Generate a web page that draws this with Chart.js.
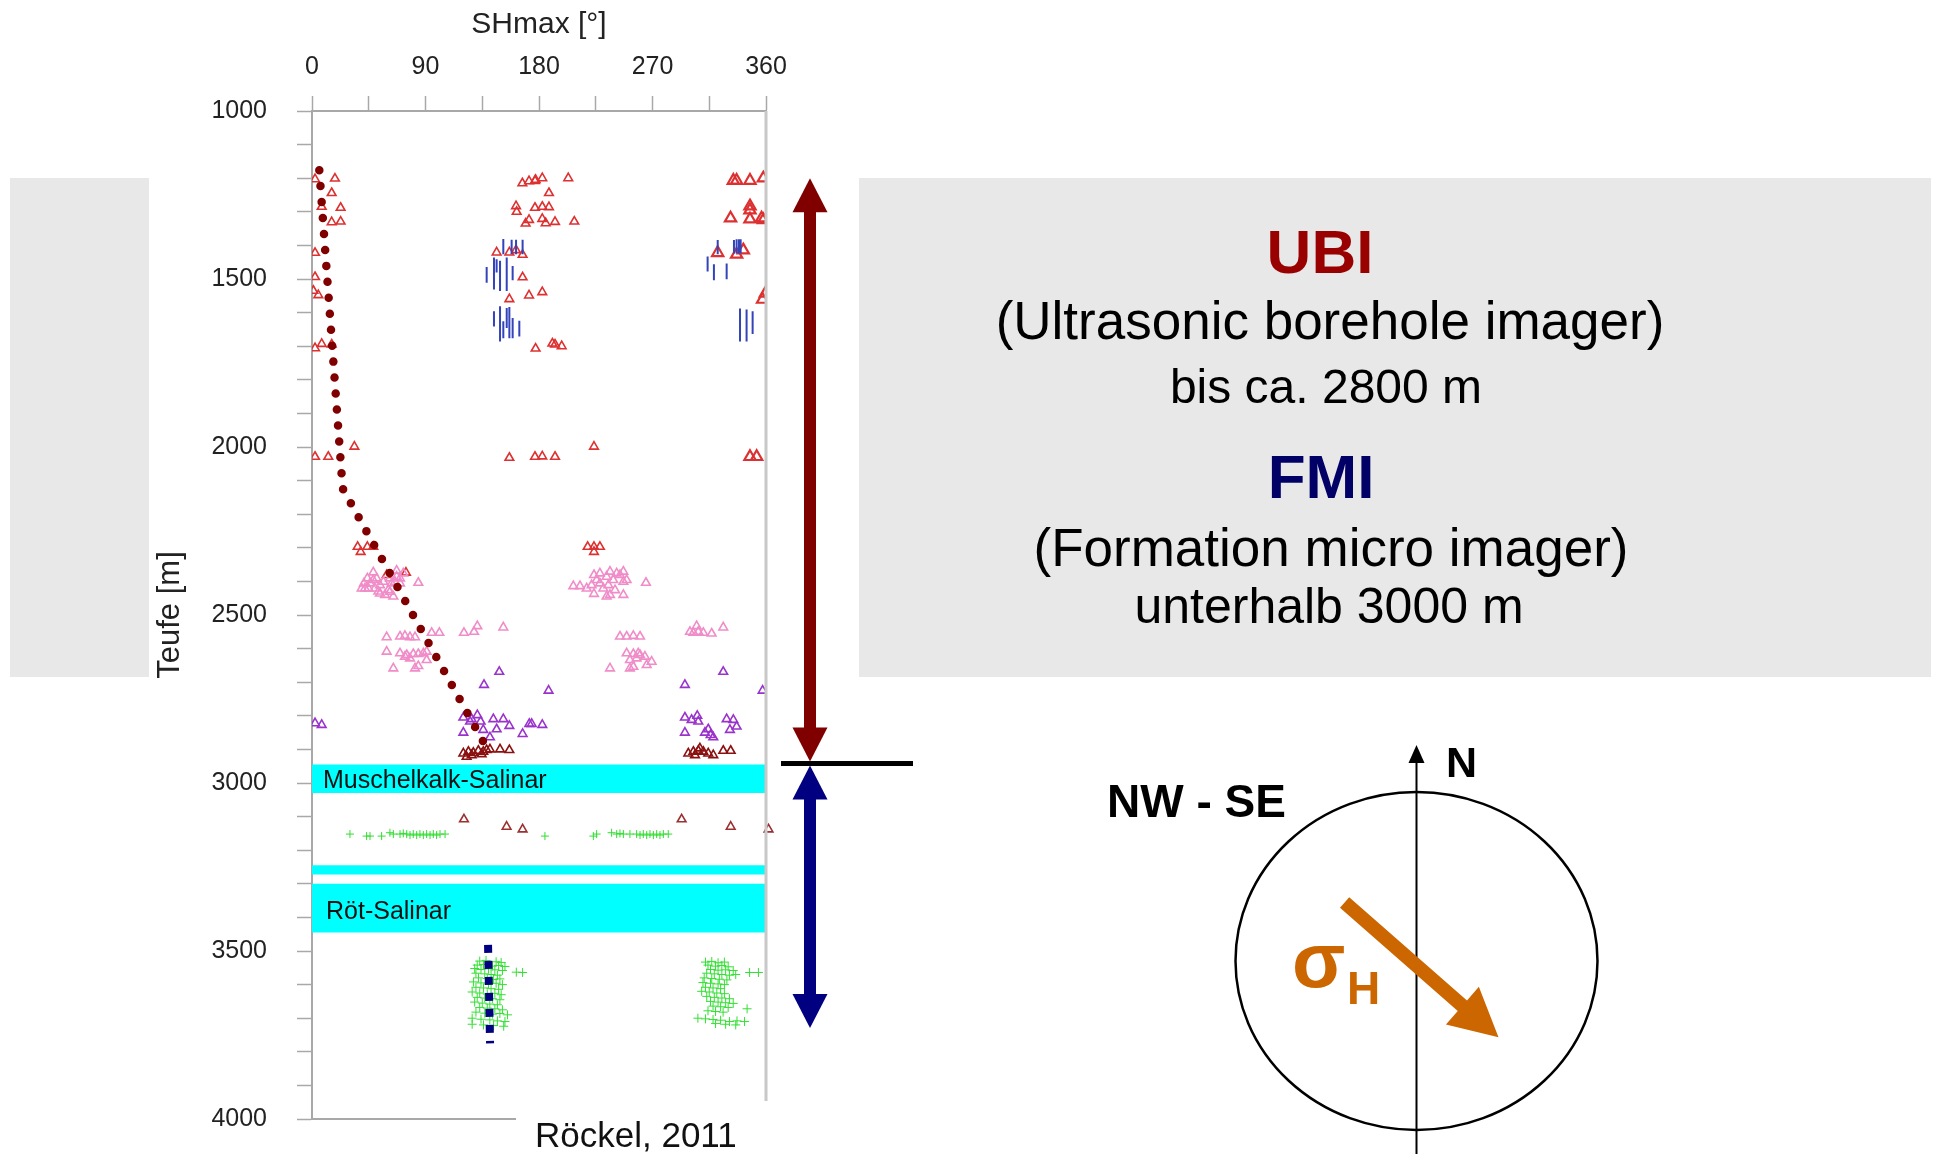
<!DOCTYPE html>
<html><head><meta charset="utf-8">
<script src="https://cdn.jsdelivr.net/npm/chart.js@4.4.1/dist/chart.umd.min.js"></script>
<style>html,body{margin:0;padding:0;background:#fff}#wrap{width:1934px;height:1154px;position:relative}</style>
</head><body><div id="wrap"><canvas id="c"></canvas></div>
<script>
// ---- tick labels ----
const xTickLabels = [0, 90, 180, 270, 360];
const yTickLabels = [1000, 1500, 2000, 2500, 3000, 3500, 4000];

// ---- UBI breakouts [SHmax deg, depth m] ----
const ubiRed = [
 [2.4,1203],[18.2,1201],[15.6,1244],[7.7,1285],[22.7,1288],[15.6,1331],[22.7,1329],[2.4,1422],[2.4,1494],[1.1,1535],[5.0,1548],
 [2.4,1706],[7.7,1693],[15.6,1695],[33.6,1999],[2.4,2029],[12.9,2029],[36.2,2297],[43.9,2297],[48.6,2297],[38.6,2312],[59.2,2381],[74.5,2374],
 [166.8,1215],[172.1,1209],[176.8,1208],[177.3,1205],[182.6,1200],[203.2,1200],[187.9,1244],[161.8,1283],[162.3,1300],[176.8,1288],
 [182.6,1285],[187.9,1286],[172.1,1324],[182.6,1321],[169.4,1335],[185.3,1334],[192.7,1330],[208.0,1329],[146.4,1421],[156.5,1421],
 [161.8,1414],[167.0,1428],[167.0,1495],[156.5,1560],[172.1,1549],[182.6,1539],[177.3,1707],[190.6,1692],[192.7,1695],[198.0,1700],
 [156.5,2032],[176.8,2029],[182.6,2028],[192.7,2029],[223.6,1999],[218.6,2297],[223.6,2297],[228.3,2297],[223.6,2312],
 [334.1,1207],[336.7,1207],[347.3,1207],[357.9,1200],[347.3,1283],[347.3,1295],[331.9,1319],[347.3,1322],[356.5,1319],[357.9,1324],
 [321.7,1422],[336.7,1427],[342.0,1414],[359.5,1543],[357.3,1561],[347.3,2029],[352.6,2029]
];
const ubiPink = [
 [48.6,2373],[43.9,2391],[41.2,2406],[39.4,2421],[44.7,2421],[48.6,2396],[49.9,2421],[53.9,2411],[53.9,2436],[57.9,2440],[61.8,2431],
 [63.2,2406],[67.1,2368],[67.1,2386],[69.8,2391],[72.4,2376],[84.3,2404],[51.3,2391],[61.8,2391],[56.6,2401],[46.0,2406],[64.5,2445],
 [60.5,2426],[52.6,2430],[42.0,2421],[65.8,2401],[69.8,2406],
 [207.2,2414],[212.5,2414],[217.8,2421],[221.7,2411],[223.6,2381],[228.3,2376],[233.6,2386],[236.3,2371],[238.9,2396],[241.6,2376],
 [246.9,2371],[246.9,2401],[249.5,2396],[264.8,2404],[223.6,2437],[233.6,2445],[236.3,2440],[246.9,2440],[231.0,2421],[228.3,2406],
 [240.3,2426],[244.2,2381],[225.7,2396],[235.0,2411],
 [59.2,2566],[69.8,2564],[73.7,2562],[77.7,2566],[81.7,2566],[94.9,2553],[101.0,2553],[120.5,2553],[128.5,2550],[131.1,2533],[151.7,2537],
 [59.2,2609],[69.8,2614],[75.1,2619],[80.3,2616],[84.3,2616],[88.3,2614],[90.9,2634],[90.9,2609],[64.5,2659],[81.7,2659],[84.3,2652],
 [77.7,2629],[73.7,2624],
 [244.2,2564],[249.5,2564],[254.8,2562],[260.1,2564],[249.5,2614],[254.8,2616],[258.7,2614],[260.1,2619],[264.0,2624],[269.3,2639],
 [252.1,2634],[254.8,2654],[265.4,2649],[236.3,2659],[252.1,2659],[257.4,2629],
 [299.7,2550],[305.0,2533],[310.3,2553],[316.9,2555],[326.1,2537],[306.3,2550],[302.4,2553]
];
const ubiPurple = [
 [148.5,2669],[136.4,2708],[187.6,2725],[120.0,2805],[126.6,2810],[131.1,2798],[133.7,2817],[143.8,2810],[151.7,2810],[156.5,2830],
 [120.0,2850],[135.8,2842],[146.4,2840],[141.1,2864],[167.0,2854],[172.3,2824],[174.2,2824],[182.6,2827],[125.3,2817],
 [2.4,2822],[7.7,2827],
 [295.7,2708],[326.1,2669],[357.3,2725],[295.7,2805],[301.0,2812],[305.5,2800],[306.3,2817],[328.8,2810],[334.1,2812],[336.7,2832],
 [331.4,2842],[295.7,2850],[311.6,2850],[314.2,2840],[318.2,2864],[316.1,2857]
];
const ubiMaroon = [
 [120.0,2912],[124.0,2907],[127.9,2910],[131.9,2904],[135.8,2907],[138.5,2902],[141.1,2900],[149.1,2900],[156.5,2902],[122.6,2922],
 [126.6,2917],[134.5,2914],
 [298.4,2912],[302.4,2907],[306.3,2904],[310.3,2907],[314.2,2912],[318.2,2917],[326.1,2904],[332.0,2904],[307.6,2897],[303.7,2917]
];
const deepMaroon = [[120.5,3108],[154.3,3130],[167.0,3138],[293.1,3108],[332.0,3130],[362.0,3138]];

// ---- FMI breakouts ----
const fmiGreenUpper = [
 [30.1,3152],[43.3,3158],[46.0,3158],[55.2,3158],[61.8,3148],[64.5,3152],[69.8,3152],[75.1,3152],[80.3,3152],[85.6,3152],[90.9,3152],
 [96.2,3152],[101.5,3152],[105.5,3152],[72.4,3150],[77.7,3155],[83.0,3155],[88.3,3155],[93.6,3155],[98.8,3155],
 [184.7,3158],[223.1,3158],[225.7,3152],[237.6,3148],[241.6,3152],[246.9,3152],[252.1,3152],[257.4,3152],[262.7,3152],[268.0,3152],
 [273.3,3152],[278.6,3152],[282.5,3152],[244.2,3150],[260.1,3155],[265.4,3155],[270.7,3155],[275.9,3155]
];
const fmiGreenLower = [
 [133,3530],[138,3528],[146,3532],[150,3534],[131,3542],[136,3540],[143,3545],[148,3543],[153,3546],[129,3552],[134,3555],[140,3553],
 [145,3556],[151,3558],[162,3563],[167,3564],[130,3566],[137,3568],[142,3570],[147,3572],[132,3580],[139,3582],[144,3585],[149,3583],
 [128,3592],[134,3595],[140,3598],[146,3596],[151,3600],[130,3608],[136,3610],[142,3612],[148,3614],[127,3622],[133,3625],[139,3628],
 [145,3626],[150,3630],[131,3638],[137,3640],[143,3642],[149,3645],[129,3652],[135,3655],[141,3658],[147,3660],[133,3668],[139,3670],
 [145,3672],[151,3675],[130,3682],[137,3685],[143,3688],[149,3686],[155,3690],[127,3700],[134,3703],[141,3705],[147,3708],[153,3710],
 [127,3718],[136,3720],[144,3722],[152,3724],
 [312,3533],[317,3531],[322,3535],[327,3533],[314,3542],[320,3545],[325,3543],[330,3547],[316,3555],[322,3557],[328,3556],[334,3558],
 [347,3564],[354,3564],[313,3566],[319,3568],[325,3570],[331,3572],[336,3570],[311,3580],[317,3582],[323,3584],[329,3586],[310,3594],
 [316,3596],[322,3598],[327,3600],[312,3608],[318,3610],[324,3612],[309,3620],[315,3622],[321,3625],[327,3627],[313,3635],[319,3638],
 [325,3640],[331,3642],[316,3650],[322,3652],[328,3654],[334,3656],[318,3664],[324,3666],[330,3668],[345,3672],[314,3678],[320,3680],
 [326,3682],[306,3700],[312,3702],[318,3704],[324,3706],[331,3710],[337,3708],[343,3710],[320,3716],[328,3718],[336,3720]
];
// FMI ticks: [deg, top depth, bottom depth]
const fmiBlue = [
 [151.7,1381,1426],[158.3,1383,1426],[161.8,1383,1426],[167.0,1383,1426],
 [138.5,1464,1511],[144.3,1436,1531],[146.4,1441,1481],[149.1,1446,1536],[154.4,1436,1536],[159.1,1461,1504],
 [144.3,1596,1641],[149.1,1581,1686],[151.7,1626,1676],[154.4,1586,1646],[156.5,1583,1676],[159.1,1616,1676],[164.4,1624,1671],
 [321.7,1384,1426],[334.6,1384,1424],[336.7,1382,1424],[338.6,1382,1424],[339.9,1382,1424],
 [313.7,1433,1478],[318.7,1456,1504],[328.8,1454,1501],
 [339.4,1588,1686],[344.6,1591,1686],[349.4,1596,1664]
];
// trends
const trendUBI = [[5.8,1176],[24.3,2123],[137.0,2885]];
const trendFMI = [[139.6,3482],[141.2,3775]];
// salt layers
const saltNames = ['Muschelkalk-Salinar', '', 'Röt-Salinar'];
const saltTop = [2945, 3245, 3300];
const saltBottom = [3030, 3272, 3445];
// logging ranges
const ubiRange = [1200, 2936];
const boundaryDepth = 2942;
const fmiRange = [2948, 3729];

const FONT = '"Liberation Sans", Arial, Helvetica, sans-serif';
Chart.defaults.font.family = FONT;
const xy = a => a.map(p => ({x: p[0], y: p[1]}));
const tri = (data, color, extra) => Object.assign({
  type: 'scatter', data: xy(data), pointStyle: 'triangle', pointRadius: 5,
  borderColor: color, backgroundColor: 'rgba(0,0,0,0)', pointBorderWidth: 1.6, showLine: false
}, extra || {});

const blueSegs = [];
fmiBlue.forEach(r => { blueSegs.push({x: r[0], y: r[1]}, {x: r[0], y: r[2]}, {x: r[0], y: null}); });

const datasets = [
  {type: 'line', label: 'Trend FMI', data: xy(trendFMI), borderColor: '#000080', borderWidth: 8,
   borderDash: [8, 8], borderCapStyle: 'butt', pointRadius: 0, fill: false, tension: 0},
  {type: 'line', label: 'Trend UBI', data: xy(trendUBI), borderColor: '#800000', borderWidth: 8.5,
   borderDash: [0, 16], borderCapStyle: 'round', pointRadius: 0, fill: false, tension: 0},
  {type: 'line', label: 'FMI', data: blueSegs, borderColor: '#3344bb', borderWidth: 2, pointRadius: 0,
   spanGaps: false, fill: false},
  tri(ubiMaroon, '#8b1010'),
  tri(deepMaroon, '#9a3030', {clip: false}),
  tri(ubiPurple, '#9933cc'),
  tri(ubiPink, '#f08cc8'),
  tri(ubiRed, '#dd3030', {pointRadius: c => (c.raw && c.raw.x > 300) ? 6.5 : 5,
                          pointBorderWidth: c => (c.raw && c.raw.x > 300) ? 2.2 : 1.6}),
  {type: 'scatter', label: 'FMI oben', data: xy(fmiGreenUpper), pointStyle: 'cross', pointRadius: 4,
   borderColor: '#33dd33', pointBorderWidth: 1},
  {type: 'scatter', label: 'FMI unten', data: xy(fmiGreenLower), pointStyle: 'cross', pointRadius: 4.5,
   borderColor: '#33e033', pointBorderWidth: 1}
];
saltTop.forEach((t, i) => {
  datasets.push({type: 'line', data: [{x: 0, y: t}, {x: 360, y: t}], borderWidth: 0,
    borderColor: 'rgba(0,0,0,0)', pointRadius: 0, fill: false});
  datasets.push({type: 'line', data: [{x: 0, y: saltBottom[i]}, {x: 360, y: saltBottom[i]}], borderWidth: 0,
    borderColor: 'rgba(0,0,0,0)', backgroundColor: '#00ffff', pointRadius: 0, fill: '-1'});
});

function tri2(ctx, pts, color) {
  ctx.fillStyle = color; ctx.beginPath(); ctx.moveTo(pts[0], pts[1]);
  for (let i = 2; i < pts.length; i += 2) ctx.lineTo(pts[i], pts[i+1]);
  ctx.closePath(); ctx.fill();
}

const deco = {
  id: 'deco',
  beforeDraw(chart) {
    const ctx = chart.ctx;
    ctx.save();
    ctx.fillStyle = '#ffffff'; ctx.fillRect(0, 0, chart.width, chart.height);
    ctx.fillStyle = '#e8e8e8';
    ctx.fillRect(10, 178, 139, 499);
    ctx.fillRect(859, 178, 1072, 499);
    ctx.restore();
  },
  afterDatasetsDraw(chart) {
    const ctx = chart.ctx, ca = chart.chartArea, ys = chart.scales.y, xs = chart.scales.x;
    ctx.save();
    // salt labels
    ctx.fillStyle = '#111'; ctx.textAlign = 'left'; ctx.textBaseline = 'alphabetic';
    saltNames.forEach((n, i) => {
      if (!n) return;
      const yc = (ys.getPixelForValue(saltTop[i]) + ys.getPixelForValue(saltBottom[i])) / 2;
      ctx.font = '25px ' + FONT;
      ctx.fillText(n, xs.getPixelForValue(0) + (i === 0 ? 11 : 14), yc + (i === 0 ? 9 : 11));
    });
    // right border & bottom axis
    ctx.strokeStyle = '#c8c8c8'; ctx.lineWidth = 3;
    ctx.beginPath(); ctx.moveTo(ca.right, ca.top); ctx.lineTo(ca.right, 1101); ctx.stroke();
    ctx.strokeStyle = '#a8a8a8'; ctx.lineWidth = 2;
    ctx.beginPath(); ctx.moveTo(ca.left, ca.bottom); ctx.lineTo(516, ca.bottom); ctx.stroke();
    // source label
    ctx.fillStyle = '#fff'; ctx.fillRect(516, 1102, 262, 52);
    ctx.fillStyle = '#111'; ctx.font = '35px ' + FONT;
    ctx.fillText('Röckel, 2011', 535, 1147);

    // vertical range arrows
    const ax = 810, sw = 12, hw = 17.5, hl = 34;
    const r1 = ys.getPixelForValue(ubiRange[0]), r2 = ys.getPixelForValue(ubiRange[1]);
    ctx.fillStyle = '#800000';
    ctx.fillRect(ax - sw/2, r1 + hl - 1, sw, r2 - r1 - 2*hl + 2);
    tri2(ctx, [ax, r1, ax - hw, r1 + hl, ax + hw, r1 + hl], '#800000');
    tri2(ctx, [ax, r2, ax - hw, r2 - hl, ax + hw, r2 - hl], '#800000');
    const b1 = ys.getPixelForValue(fmiRange[0]), b2 = ys.getPixelForValue(fmiRange[1]);
    ctx.fillStyle = '#000080';
    ctx.fillRect(ax - sw/2, b1 + hl - 1, sw, b2 - b1 - 2*hl + 2);
    tri2(ctx, [ax, b1, ax - hw, b1 + hl, ax + hw, b1 + hl], '#000080');
    tri2(ctx, [ax, b2, ax - hw, b2 - hl, ax + hw, b2 - hl], '#000080');
    const by = ys.getPixelForValue(boundaryDepth);
    ctx.fillStyle = '#000'; ctx.fillRect(781, by - 2.5, 132, 5);

    // right text block
    ctx.textAlign = 'center';
    ctx.fillStyle = '#990000'; ctx.font = 'bold 62px ' + FONT; ctx.fillText('UBI', 1320, 273);
    ctx.fillStyle = '#000'; ctx.font = '53px ' + FONT; ctx.fillText('(Ultrasonic borehole imager)', 1330, 339);
    ctx.font = '48px ' + FONT; ctx.fillText('bis ca. 2800 m', 1326, 403);
    ctx.fillStyle = '#000066'; ctx.font = 'bold 62px ' + FONT; ctx.fillText('FMI', 1321, 498);
    ctx.fillStyle = '#000'; ctx.font = '53px ' + FONT; ctx.fillText('(Formation micro imager)', 1331, 566);
    ctx.font = '50px ' + FONT; ctx.fillText('unterhalb 3000 m', 1329, 623);

    // compass
    const cx = 1416.5, cy = 961;
    ctx.strokeStyle = '#000'; ctx.lineWidth = 2.5;
    ctx.beginPath(); ctx.ellipse(cx, cy, 181, 169, 0, 0, Math.PI * 2); ctx.stroke();
    ctx.lineWidth = 2;
    ctx.beginPath(); ctx.moveTo(cx, 760); ctx.lineTo(cx, 1154); ctx.stroke();
    tri2(ctx, [cx, 745, cx - 8, 763, cx + 8, 763], '#000');
    ctx.textAlign = 'left'; ctx.fillStyle = '#000';
    ctx.font = 'bold 43px ' + FONT; ctx.fillText('N', 1446, 777);
    ctx.font = 'bold 46px ' + FONT; ctx.fillText('NW - SE', 1107, 817);
    // orange sigma_H arrow
    const sx = 1344.6, sy = 902.5, tx = 1498.5, ty = 1037.3;
    const L = Math.hypot(tx - sx, ty - sy), ux = (tx - sx) / L, uy = (ty - sy) / L, px = -uy, py = ux;
    const hL = 48, hW = 25, w = 7;
    const bx = tx - ux * hL, byy = ty - uy * hL;
    ctx.fillStyle = '#cc6600';
    ctx.beginPath();
    ctx.moveTo(sx + px * w, sy + py * w);
    ctx.lineTo(bx + px * w, byy + py * w);
    ctx.lineTo(bx + px * hW, byy + py * hW);
    ctx.lineTo(tx, ty);
    ctx.lineTo(bx - px * hW, byy - py * hW);
    ctx.lineTo(bx - px * w, byy - py * w);
    ctx.lineTo(sx - px * w, sy - py * w);
    ctx.closePath(); ctx.fill();
    ctx.font = 'bold 78px ' + FONT; ctx.fillText('σ', 1292, 987);
    ctx.font = 'bold 46px ' + FONT; ctx.fillText('H', 1347, 1004);
    ctx.restore();
  }
};

new Chart(document.getElementById('c'), {
  type: 'scatter',
  data: {datasets},
  options: {
    responsive: true, maintainAspectRatio: false, animation: false, events: [],
    layout: {padding: {left: 0, top: 0, right: 1168, bottom: 35}},
    plugins: {legend: {display: false}, tooltip: {enabled: false}},
    scales: {
      x: {
        type: 'linear', position: 'top', min: 0, max: 360,
        afterFit: s => { s.height = 111; s.paddingLeft = 0; s.paddingRight = 0; s.paddingTop = 0; s.paddingBottom = 0; },
        ticks: {stepSize: 45, autoSkip: false, maxRotation: 0, padding: 14, color: '#222',
                font: {size: 25}, callback: v => xTickLabels.includes(v) ? String(v) : ''},
        grid: {drawOnChartArea: false, drawTicks: true, tickLength: 15, tickColor: '#a8a8a8', tickWidth: 1.5},
        border: {display: true, color: '#a8a8a8', width: 2},
        title: {display: true, text: 'SHmax [°]', color: '#222', font: {size: 30}, padding: {top: 7, bottom: 0}}
      },
      y: {
        type: 'linear', position: 'left', min: 1000, max: 4000, reverse: true,
        afterFit: s => { s.width = 312; s.paddingLeft = 0; s.paddingRight = 0; s.paddingTop = 0; s.paddingBottom = 0; },
        ticks: {stepSize: 100, autoSkip: false, padding: 30, color: '#222',
                font: {size: 25}, callback: v => yTickLabels.includes(v) ? String(v) : ''},
        grid: {drawOnChartArea: false, drawTicks: true, tickLength: 15, tickColor: '#a8a8a8', tickWidth: 1.5},
        border: {display: true, color: '#a8a8a8', width: 2},
        title: {display: true, text: 'Teufe [m]', color: '#222', font: {size: 31}, padding: {top: 152, bottom: 0}}
      }
    }
  },
  plugins: [deco]
});
</script></body></html>
